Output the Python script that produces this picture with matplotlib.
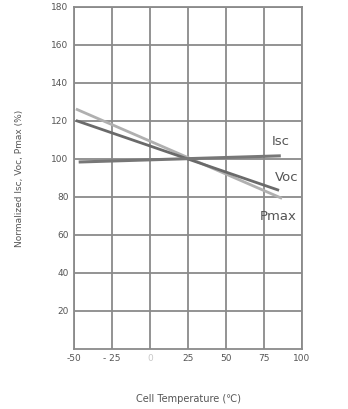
import matplotlib.pyplot as plt
import numpy as np

# Data (start / end of each straight line)
isc_t = [-46, 85]
isc_v = [98.4, 101.6]
voc_t = [-48, 84]
voc_v = [120, 83.7]
pmax_t = [-48, 86]
pmax_v = [126, 79.5]

x_ticks = [-50, -25, 0, 25, 50, 75, 100]
x_labels = ['-50', '- 25', '0', '25', '50', '75', '100']
y_ticks = [20, 40, 60, 80, 100, 120, 140, 160, 180]

plt.rcParams['font.family'] = ['DejaVu Sans']

fig = plt.figure(figsize=(3.48, 4.09), dpi=100)
ax = fig.add_axes([0.213, 0.147, 0.655, 0.836])

grid_c = '#8a8a8a'
ax.set_xlim(-50, 100)
ax.set_ylim(0, 180)
ax.set_xticks(x_ticks)
ax.set_xticklabels(x_labels)
ax.set_yticks(y_ticks)
ax.grid(True, color=grid_c, linewidth=1.3)
for s in ax.spines.values():
    s.set_color(grid_c)
    s.set_linewidth(1.3)
ax.tick_params(length=0, labelsize=6.5, colors='#555555', pad=4)
ax.get_xticklabels()[2].set_color('#c8c8c8')

# Lines
ax.plot(pmax_t, pmax_v, color='#b0b0b0', linewidth=2.0, zorder=3)
ax.plot(voc_t, voc_v, color='#6a6a6a', linewidth=2.0, zorder=4)
ax.plot(isc_t, isc_v, color='#777777', linewidth=2.2, zorder=4)

ax.text(86, 109, 'Isc', fontsize=9.5, color='#555555', ha='center', va='center')
ax.text(90, 90, 'Voc', fontsize=9.5, color='#555555', ha='center', va='center')
ax.text(84, 69.5, 'Pmax', fontsize=9.5, color='#555555', ha='center', va='center')

ax.set_xlabel('Cell Temperature (\u2103)', fontsize=7, color='#555555', labelpad=22)
ax.set_ylabel('Normalized Isc, Voc, Pmax (%)', fontsize=6.5, color='#555555', labelpad=20)

plt.savefig('out.png', dpi=100)
